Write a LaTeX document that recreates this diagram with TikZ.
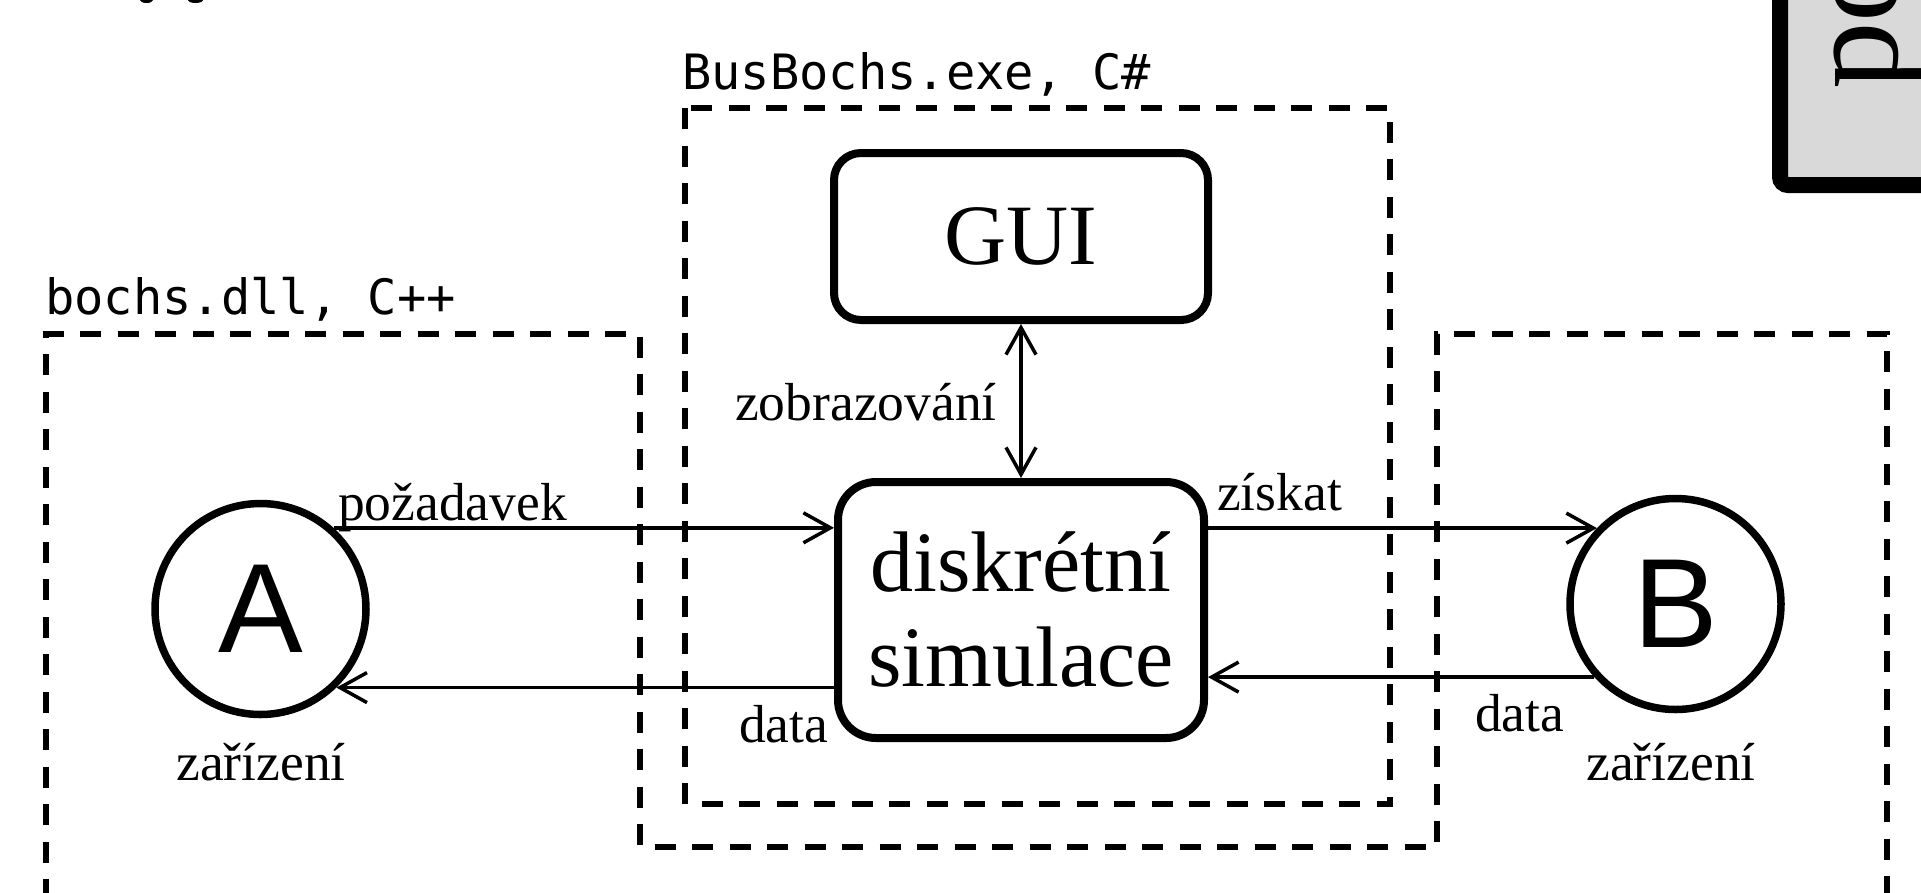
\documentclass[tikz,border=0pt]{standalone}
\usepackage{fontspec}
\setmainfont{Liberation Serif}
\newfontfamily\codefont{DejaVu Sans Mono}
\newfontfamily\letterfont{Liberation Sans}
\usetikzlibrary{arrows.meta}
\definecolor{panelgray}{RGB}{217,217,217}

\begin{document}
\begin{tikzpicture}[x=1pt,y=-1pt,
  region/.style={draw, line width=6pt, dash pattern=on 21pt off 16.5pt},
  proc/.style={draw, line width=8pt, align=center, inner sep=0pt,
    font=\fontsize{86}{95}\selectfont},
  device/.style={draw, circle, line width=7.5pt, minimum size=211pt, inner sep=0pt,
    font=\letterfont\fontsize{127}{127}\selectfont},
  lbl/.style={inner sep=0pt, font=\fontsize{53.5}{60}\selectfont},
  caption/.style={inner sep=0pt, font=\codefont\fontsize{48.7}{56}\selectfont},
  barb/.tip={Straight Barb[length=27pt, width=30pt, line width=3.5pt]},
  flow/.style={line width=3.5pt, -barb},
  twoway/.style={line width=3.5pt, barb-barb},
]
\useasboundingbox (0,0) rectangle (1921,892);
\clip (0,0) rectangle (1921,892);

% descender ends of the line above
\fill (146.5,0) ellipse [x radius=6.5pt, y radius=3pt];
\fill (195.5,0) ellipse [x radius=7.5pt, y radius=3pt];

% process regions
\draw[region] (46,900) -- (46,334) -- (640,334) -- (640,847) -- (1437,847)
  -- (1437,334) -- (1887,334) -- (1887,900);
\draw[region] (685,108) rectangle (1390,804);

\node[caption, anchor=base west] (dllcap) at (45,314) {bochs.dll, C++};
\node[caption, anchor=base west] (execap) at (682,89) {BusBochs.exe, C\#};

% components
\node[proc, minimum width=374pt, minimum height=167pt, rounded corners=27pt]
  (gui) at (1021,236.5) {GUI};
\node[proc, minimum width=366pt, minimum height=256pt, rounded corners=38pt]
  (sim) at (1021,610) {diskrétní\\simulace};

\node[device] (A) at (260.5,609) {A};
\node[device] (B) at (1675.5,604) {B};

% data flows
\draw[flow] (A.48) -- (A.48 -| sim.west);
\draw[flow] (sim.west |- A.-46.4) -- (A.-46.4);
\draw[flow] (sim.east |- B.136.5) -- (B.136.5);
\draw[flow] (B.222.8) -- (B.222.8 -| sim.east);
\draw[twoway] (gui.south) -- (sim.north);

% flow labels
\node[lbl, anchor=base west] (reqlbl) at (338,520) {požadavek};
\node[lbl, anchor=base west] (showlbl) at (735,420) {zobrazování};
\node[lbl, anchor=base west] (getlbl) at (1217,510) {získat};
\node[lbl, anchor=base west] (dataA) at (739,742) {data};
\node[lbl, anchor=base west] (dataB) at (1475,731) {data};
\node[lbl, anchor=base] (devA) at (261,780) {zařízení};
\node[lbl, anchor=base] (devB) at (1671,780) {zařízení};

% side panel
\draw[line width=16pt, fill=panelgray, rounded corners=8pt]
  (1780,-60) rectangle (1990,185);
\node[rotate=90, anchor=base west, inner sep=0pt,
  font=\fontsize{135}{135}\selectfont] (panel) at (1897,90) {po};
\end{tikzpicture}
\end{document}
